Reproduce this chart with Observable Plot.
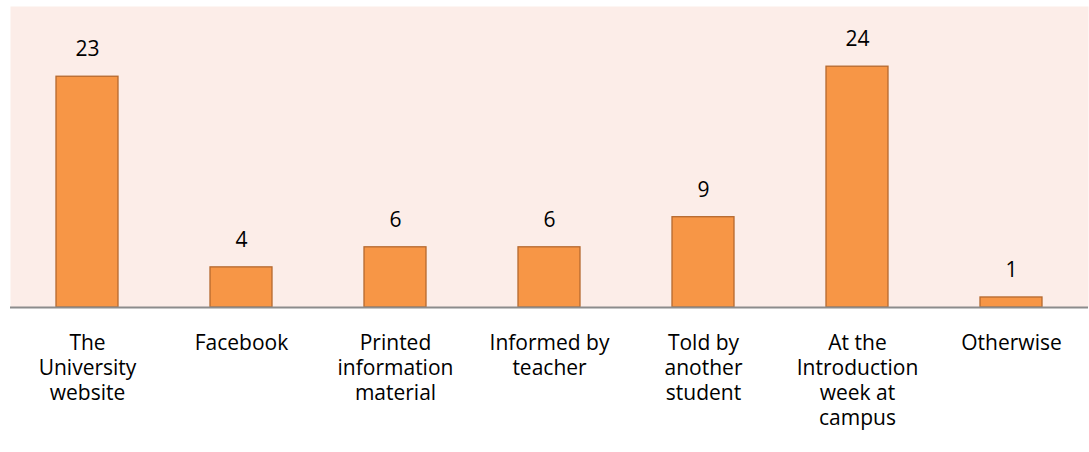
<!DOCTYPE html>
<html>
<head>
<meta charset="utf-8">
<script src="https://cdn.jsdelivr.net/npm/d3@7"></script>
<script src="https://cdn.jsdelivr.net/npm/@observablehq/plot@0.6"></script>
<style>
  html, body { margin: 0; padding: 0; background: #ffffff; }
  #chart svg { display: block; }
</style>
</head>
<body>
<div id="chart"></div>
<script>
const categories = [
  "The\nUniversity\nwebsite",
  "Facebook",
  "Printed\ninformation\nmaterial",
  "Informed by\nteacher",
  "Told by\nanother\nstudent",
  "At the\nIntroduction\nweek at\ncampus",
  "Otherwise"
];
const counts = [23, 4, 6, 6, 9, 24, 1];

const data = categories.map((c, i) => ({category: c, count: counts[i]}));
const font = "'Open Sans', Carlito, sans-serif";

const chart = Plot.plot({
  width: 1089,
  height: 452,
  marginLeft: 10,
  marginRight: 1,
  marginTop: 6,
  marginBottom: 145,
  style: {fontFamily: font, fontSize: "21px", color: "#000", background: "#fff"},
  x: {domain: categories, paddingInner: 0.6, paddingOuter: 0.3, align: 0.5},
  y: {domain: [0, 30]},
  marks: [
    Plot.frame({fill: "#FCEDE8", stroke: null}),
    Plot.barY(data, {x: "category", y: "count", fill: "#F79646", stroke: "#B5692F", strokeWidth: 1.3}),
    Plot.text(data, {x: "category", y: "count", text: d => String(d.count), dy: -27, fill: "#000", fontSize: 21, lineAnchor: "middle"}),
    Plot.ruleY([0], {stroke: "#8C8C8C", strokeWidth: 2}),
    Plot.axisX({tickSize: 0, tickPadding: 25, lineHeight: 1.19, fontSize: 21, fill: "#000", label: null, lineAnchor: "top"}),
    Plot.axisY({ticks: [], label: null})
  ]
});
document.getElementById("chart").appendChild(chart);
</script>
</body>
</html>
